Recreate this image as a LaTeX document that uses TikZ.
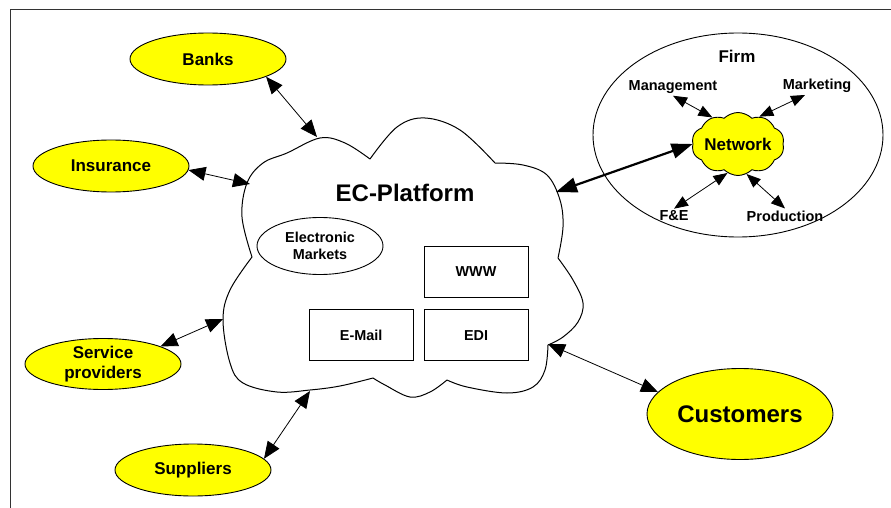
\documentclass[tikz,border=0pt]{standalone}
\usepackage{fontspec}
\setmainfont{Liberation Sans}
\usepackage{tikz}
\usetikzlibrary{positioning,shapes.geometric,shapes.symbols,arrows.meta}
\definecolor{partyfill}{HTML}{FFFF00}
\definecolor{inkline}{HTML}{000000}
\definecolor{framegray}{HTML}{333333}

\begin{document}
\begin{tikzpicture}[
        x=1pt, y=-1pt,
        every node/.style={
            text=black,
            align=center,
            font=\bfseries
        },
        party/.style={
            ellipse,
            draw=inkline,
            fill=partyfill,
            line width=0.9pt,
            inner sep=0pt,
            minimum width=156pt,
            minimum height=52pt,
            font=\fontsize{17}{19.5}\selectfont\bfseries
        },
        service/.style={
            rectangle,
            draw=inkline,
            line width=0.9pt,
            inner sep=0pt,
            minimum width=104pt,
            minimum height=51pt,
            font=\fontsize{14.4}{17}\selectfont\bfseries
        },
        dept/.style={
            inner sep=2pt,
            font=\fontsize{14.5}{17}\selectfont\bfseries
        },
        arrow/.style={
            {Triangle[length=17pt,width=14pt]}-{Triangle[length=17pt,width=14pt]},
            line width=0.8pt,
            color=inkline
        },
        smallarrow/.style={
            {Triangle[length=14pt,width=11pt]}-{Triangle[length=14pt,width=11pt]},
            line width=0.8pt,
            color=inkline
        },
        boldarrow/.style={
            {Triangle[length=21pt,width=15pt]}-{Triangle[length=21pt,width=15pt]},
            line width=2.2pt,
            color=inkline
        },
        cloudline/.style={
            draw=inkline,
            line width=1pt,
            line join=round
        }
    ]
        \useasboundingbox (0,0) rectangle (891,508);
        \draw[framegray, line width=0.9pt] (10,508) -- (10,9.5) -- (891,9.5);

        \draw[cloudline]
            plot[smooth, tension=0.6] coordinates {(252,257) (242,217) (247,183) (263,163) (287,153) (320,138) (345,143) (370,159)}
            -- plot[smooth, tension=0.6] coordinates {(370,159) (397,127) (425,118) (460,130) (495,163)}
            -- plot[smooth, tension=0.6] coordinates {(495,163) (523,165) (547,175) (560,200) (563,227) (558,258)}
            -- plot[smooth, tension=0.6] coordinates {(558,258) (573,280) (583,303) (578,322) (563,337) (548,345)}
            -- plot[smooth, tension=0.6] coordinates {(548,345) (545,370) (533,387) (507,393) (467,387) (447,380)}
            -- plot[smooth, tension=0.6] coordinates {(447,380) (430,392) (410,397) (385,385) (373,378)}
            -- plot[smooth, tension=0.6] coordinates {(373,378) (340,386) (310,390) (277,392) (243,383) (230,363) (223,320) (230,290) (252,257)}
            -- cycle;
        \coordinate (ecB) at (317,137);
        \coordinate (ecI) at (250,184);
        \coordinate (ecS) at (223,319);
        \coordinate (ecU) at (310,391);
        \coordinate (ecC) at (548,344);
        \coordinate (ecN) at (556,192);

        \node (ecp) at (405,193) {\fontsize{24}{28}\selectfont EC-Platform};
        \node (emkt) [ellipse, draw=inkline, line width=0.9pt, inner sep=0pt,
            minimum width=126pt, minimum height=57pt,
            font=\fontsize{14.4}{17}\selectfont\bfseries] at (320,246) {Electronic\\Markets};
        \node (www) [service] at (476,271.5) {WWW};
        \node (edi) [service, below=12pt of www] {EDI};
        \node (mail) [service, left=10pt of edi] {E-Mail};

        \node (banks) [party] at (208,59) {Banks};
        \node (ins) [party] at (111,166) {Insurance};
        \node (serv) [party, minimum height=51pt] at (103,364) {Service\\providers};
        \node (supp) [party] at (193,470) {Suppliers};
        \node (cust) [party, minimum width=186pt, minimum height=91pt,
            font=\fontsize{24}{28}\selectfont\bfseries] at (740,414) {Customers};

        \node (firm) [ellipse, draw=inkline, line width=0.9pt, minimum width=290pt,
            minimum height=204pt] at (738,135) {};
        \node (firmlbl) [font=\fontsize{17}{19.5}\selectfont\bfseries] at (737,56) {Firm};
        \node (net) [cloud, cloud puffs=10, cloud puff arc=90, cloud ignores aspect,
            minimum width=86pt, minimum height=63pt,
            draw=inkline, fill=partyfill, line width=0.9pt, inner sep=0pt,
            font=\fontsize{17}{19.5}\selectfont\bfseries] at (738,144) {Network};
        \node (mgmt) [dept] at (673,87) {Management};
        \node (mkt) [dept] at (817,86) {Marketing};
        \node (fe) [dept] at (674,216) {F\&E};
        \node (prod) [dept] at (785,216) {Production};

        \draw[arrow] (banks.-17) -- (ecB);
        \draw[arrow] (ins.-3) -- (ecI);
        \draw[arrow] (serv.17) -- (ecS);
        \draw[arrow] (supp.9) -- (ecU);
        \draw[arrow] (cust.165) -- (ecC);
        \draw[boldarrow] (ecN) -- (net.180);

        \draw[smallarrow] (mgmt.south) -- (net.134);
        \draw[smallarrow] ([xshift=-12pt]mkt.south) -- (net.52);
        \draw[smallarrow] (fe.north) -- (net.-110);
        \draw[smallarrow] (prod.north) -- (net.-74);
    \end{tikzpicture}
\end{document}
